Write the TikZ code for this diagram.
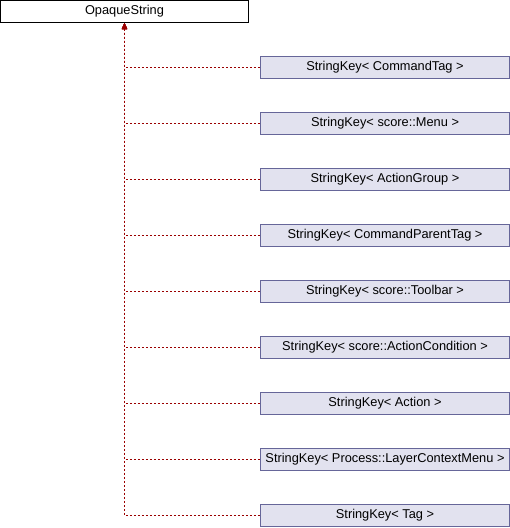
\documentclass[tikz,border=0pt]{standalone}
\usepackage{fontspec}
\setmainfont{Liberation Sans}
\usetikzlibrary{arrows.meta}

\definecolor{keyfill}{HTML}{E2E2EF}
\definecolor{keydraw}{HTML}{666699}
\definecolor{inhred}{HTML}{9A0000}

\begin{document}
\begin{tikzpicture}[x=1pt, y=-1pt,
    box/.style={minimum height=22pt, inner sep=0pt, line width=1pt,
        font=\fontsize{12.8}{15}\selectfont},
    base/.style={box, draw=black, fill=white, minimum width=248pt},
    key/.style={box, draw=keydraw, fill=keyfill, minimum width=249pt},
    inh/.style={inhred, line width=1pt, dash pattern=on 2pt off 2pt,
        {Triangle[length=6pt, width=5pt]}-}
]
    \useasboundingbox (0, 0) rectangle (510, 528);

    % Base class
    \node[base] (opaque) at (124.5, 11.5) {OpaqueString};

    % Derived classes
    \foreach \i/\name in {1/{StringKey< CommandTag >},
                          2/{StringKey< score::Menu >},
                          3/{StringKey< ActionGroup >},
                          4/{StringKey< CommandParentTag >},
                          5/{StringKey< score::Toolbar >},
                          6/{StringKey< score::ActionCondition >},
                          7/{StringKey< Action >},
                          8/{StringKey< Process::LayerContextMenu >},
                          9/{StringKey< Tag >}} {
        \node[key] (key\i) at (385, 11.5 + 56*\i) {\name};
        \draw[inh] (opaque.south) |- (key\i.west);
    }

\end{tikzpicture}
\end{document}
